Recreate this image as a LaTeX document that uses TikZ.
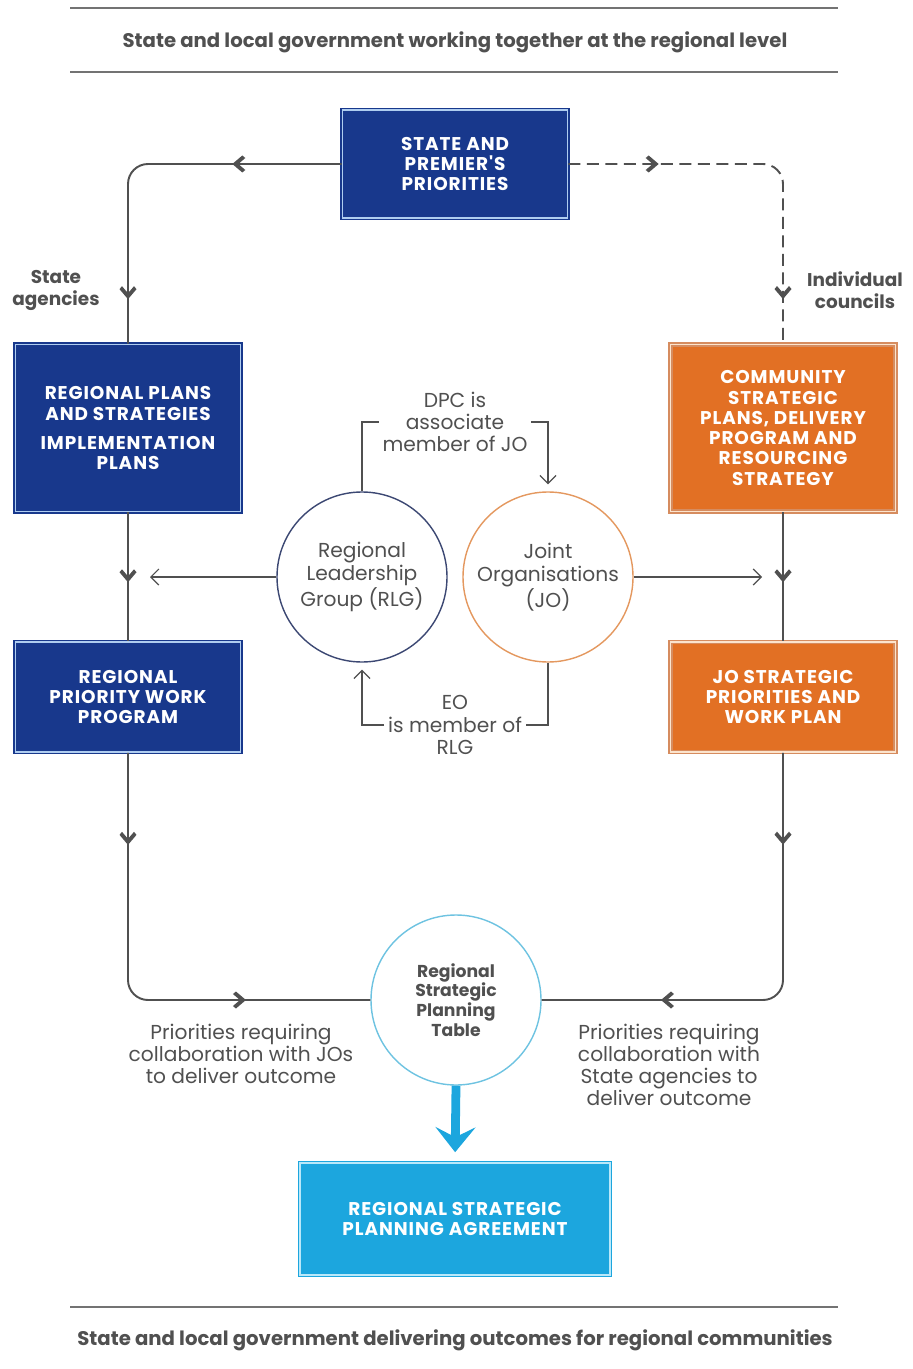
\documentclass[tikz,border=0pt]{standalone}
\usepackage{fontspec}
\setmainfont{Poppins}
\usepackage{tikz}
\usetikzlibrary{arrows.meta,decorations.markings,positioning}
\definecolor{navy}{RGB}{24,56,140}
\definecolor{navyl}{RGB}{175,205,240}
\definecolor{orng}{RGB}{226,112,36}
\definecolor{orngd}{RGB}{214,140,95}
\definecolor{orngl}{RGB}{252,228,205}
\definecolor{cyanb}{RGB}{28,166,222}
\definecolor{cyanl}{RGB}{185,232,250}
\definecolor{rlgc}{RGB}{60,72,115}
\definecolor{joc}{RGB}{228,152,95}
\definecolor{rsptc}{RGB}{110,195,225}
\definecolor{lgray}{RGB}{80,80,80}
\definecolor{tgray}{RGB}{80,80,80}
\newfontfamily\boxfont[LetterSpace=5]{Poppins}
% bold chevron put on the lines
\newcommand\chevron{\fill[lgray,sharp corners,solid] (1.1mm,0) -- (-0.9mm,1.7mm) -- (-1.5mm,1.2mm) -- (-0.1mm,0)
  -- (-1.5mm,-1.2mm) -- (-0.9mm,-1.7mm) -- cycle;}
\tikzset{
  bluebox/.style={fill=navy,draw=navy,line width=0.9pt,double=navyl,double distance=0.9pt,text=white,
    font=\boxfont\bfseries\fontsize{10.5}{11.5}\selectfont,align=center,minimum width=45mm,inner sep=2pt},
  orbox/.style={bluebox,fill=orng,draw=orngd,double=orngl},
  cybox/.style={bluebox,fill=cyanb,draw=cyanb,double=cyanl},
  ring/.style={circle,fill=white,line width=0.8pt,minimum size=34mm,inner sep=0pt,align=center,text=tgray,
    font=\fontsize{11.5}{12.8}\selectfont},
  note/.style={align=center,text=tgray,inner sep=2pt,font=\fontsize{11.5}{12.6}\selectfont},
  side/.style={note,font=\bfseries\fontsize{10.5}{12.5}\selectfont},
  title/.style={text=tgray,font=\bfseries\fontsize{11.2}{13}\selectfont},
  rule/.style={draw=lgray!80,line width=1.6pt},
  ln/.style={draw=lgray,line width=1.1pt},
  thinln/.style={draw=lgray,line width=0.7pt},
  barb/.tip={Straight Barb[length=1.6mm,width=3.2mm]},
  arrone/.style={postaction={decorate},decoration={markings,mark=at position #1 with {\chevron}}},
  arrtwo/.style 2 args={postaction={decorate},decoration={markings,
    mark=at position #1 with {\chevron},mark=at position #2 with {\chevron}}},
  bigarr/.style={draw=cyanb,line width=5pt,-{Stealth[length=5mm,width=8mm,inset=2mm]},shorten >=2mm}
}
\begin{document}
\begin{tikzpicture}[x=0.2mm,y=-0.2mm]
\useasboundingbox (0,0) rectangle (912,1369);
% header and footer
\draw[rule,line width=1.1pt] (70,8) -- (838,8);
\draw[rule] (70,72) -- (838,72);
\draw[rule] (70,1307) -- (838,1307);
\node[title] (top) at (455,42) {State and local government working together at the regional level};
\node[title] (bot) at (455,1340) {State and local government delivering outcomes for regional communities};
% boxes
\node[bluebox,minimum height=21.6mm] (spp) at (455,164) {STATE AND\\PREMIER'S\\PRIORITIES};
\node[bluebox,minimum height=33.4mm] (rps) at (128,428) {REGIONAL PLANS\\AND STRATEGIES\\[5pt]IMPLEMENTATION\\PLANS};
\node[bluebox,minimum height=22mm] (rpw) at (128,697) {REGIONAL\\PRIORITY WORK\\PROGRAM};
\node[orbox,minimum height=33.4mm] (csp) at (783,428) {COMMUNITY\\STRATEGIC\\PLANS, DELIVERY\\PROGRAM AND\\RESOURCING\\STRATEGY};
\node[orbox,minimum height=22mm] (jop) at (783,697) {JO STRATEGIC\\PRIORITIES AND\\WORK PLAN};
\node[cybox,minimum width=62mm,minimum height=22.4mm] (rspa) at (455,1219) {REGIONAL STRATEGIC\\PLANNING AGREEMENT};
% circles
\node[ring,draw=rlgc] (rlg) at (362,577) {Regional\\Leadership\\Group (RLG)};
\node[ring,draw=joc] (jo) at (548,577) {Joint\\Organisations\\(JO)};
\node[ring,draw=rsptc,font=\bfseries\fontsize{9.8}{11.3}\selectfont] (rspt) at (456,1000) {Regional\\Strategic\\Planning\\Table};
% labels
\node[side] (sa) at (56,290) {State\\agencies};
\node[side] (ic) at (855,290) {Individual\\councils};
\node[note] (dpc) at (455,422) {DPC is\\associate\\member of JO};
\node[note] (eo) at (455,725) {EO\\is member of\\RLG};
\node[note] (pl) at (241,1054) {Priorities requiring\\collaboration with JOs\\to deliver outcome};
\node[note] (pr) at (669,1065) {Priorities requiring\\collaboration with\\State agencies to\\deliver outcome};
% state side
\draw[ln,rounded corners=4mm,arrtwo={0.27}{0.87}] (spp.west) -| (rps.north);
\draw[ln,arrone=0.5] (rps.south) -- (rpw.north);
\draw[ln,rounded corners=4mm,arrtwo={0.18}{0.73}] (rpw.south) |- (rspt.west);
% council side
\draw[ln,dash pattern=on 2.4mm off 1.3mm,rounded corners=4mm,arrtwo={0.22}{0.87}] (spp.east) -| (csp.north);
\draw[ln,arrone=0.5] (csp.south) -- (jop.north);
\draw[ln,rounded corners=4mm,arrtwo={0.18}{0.74}] (jop.south) |- (rspt.east);
% RLG and JO
\coordinate (lend) at (150,577);
\coordinate (rend) at (762,577);
\draw[thinln,-barb] (rlg.west) -- (lend);
\draw[thinln,-barb] (jo.east) -- (rend);
\draw[thinln] (rlg.north) |- (dpc.west);
\draw[thinln,-barb,shorten >=1.4mm] (dpc.east) -| (jo.north);
\draw[thinln] (jo.south) |- (eo.east);
\draw[thinln,-barb,shorten >=1.4mm] (eo.west) -| (rlg.south);
% agreement
\draw[bigarr] (rspt.south) -- (rspa.north);
\end{tikzpicture}
\end{document}
